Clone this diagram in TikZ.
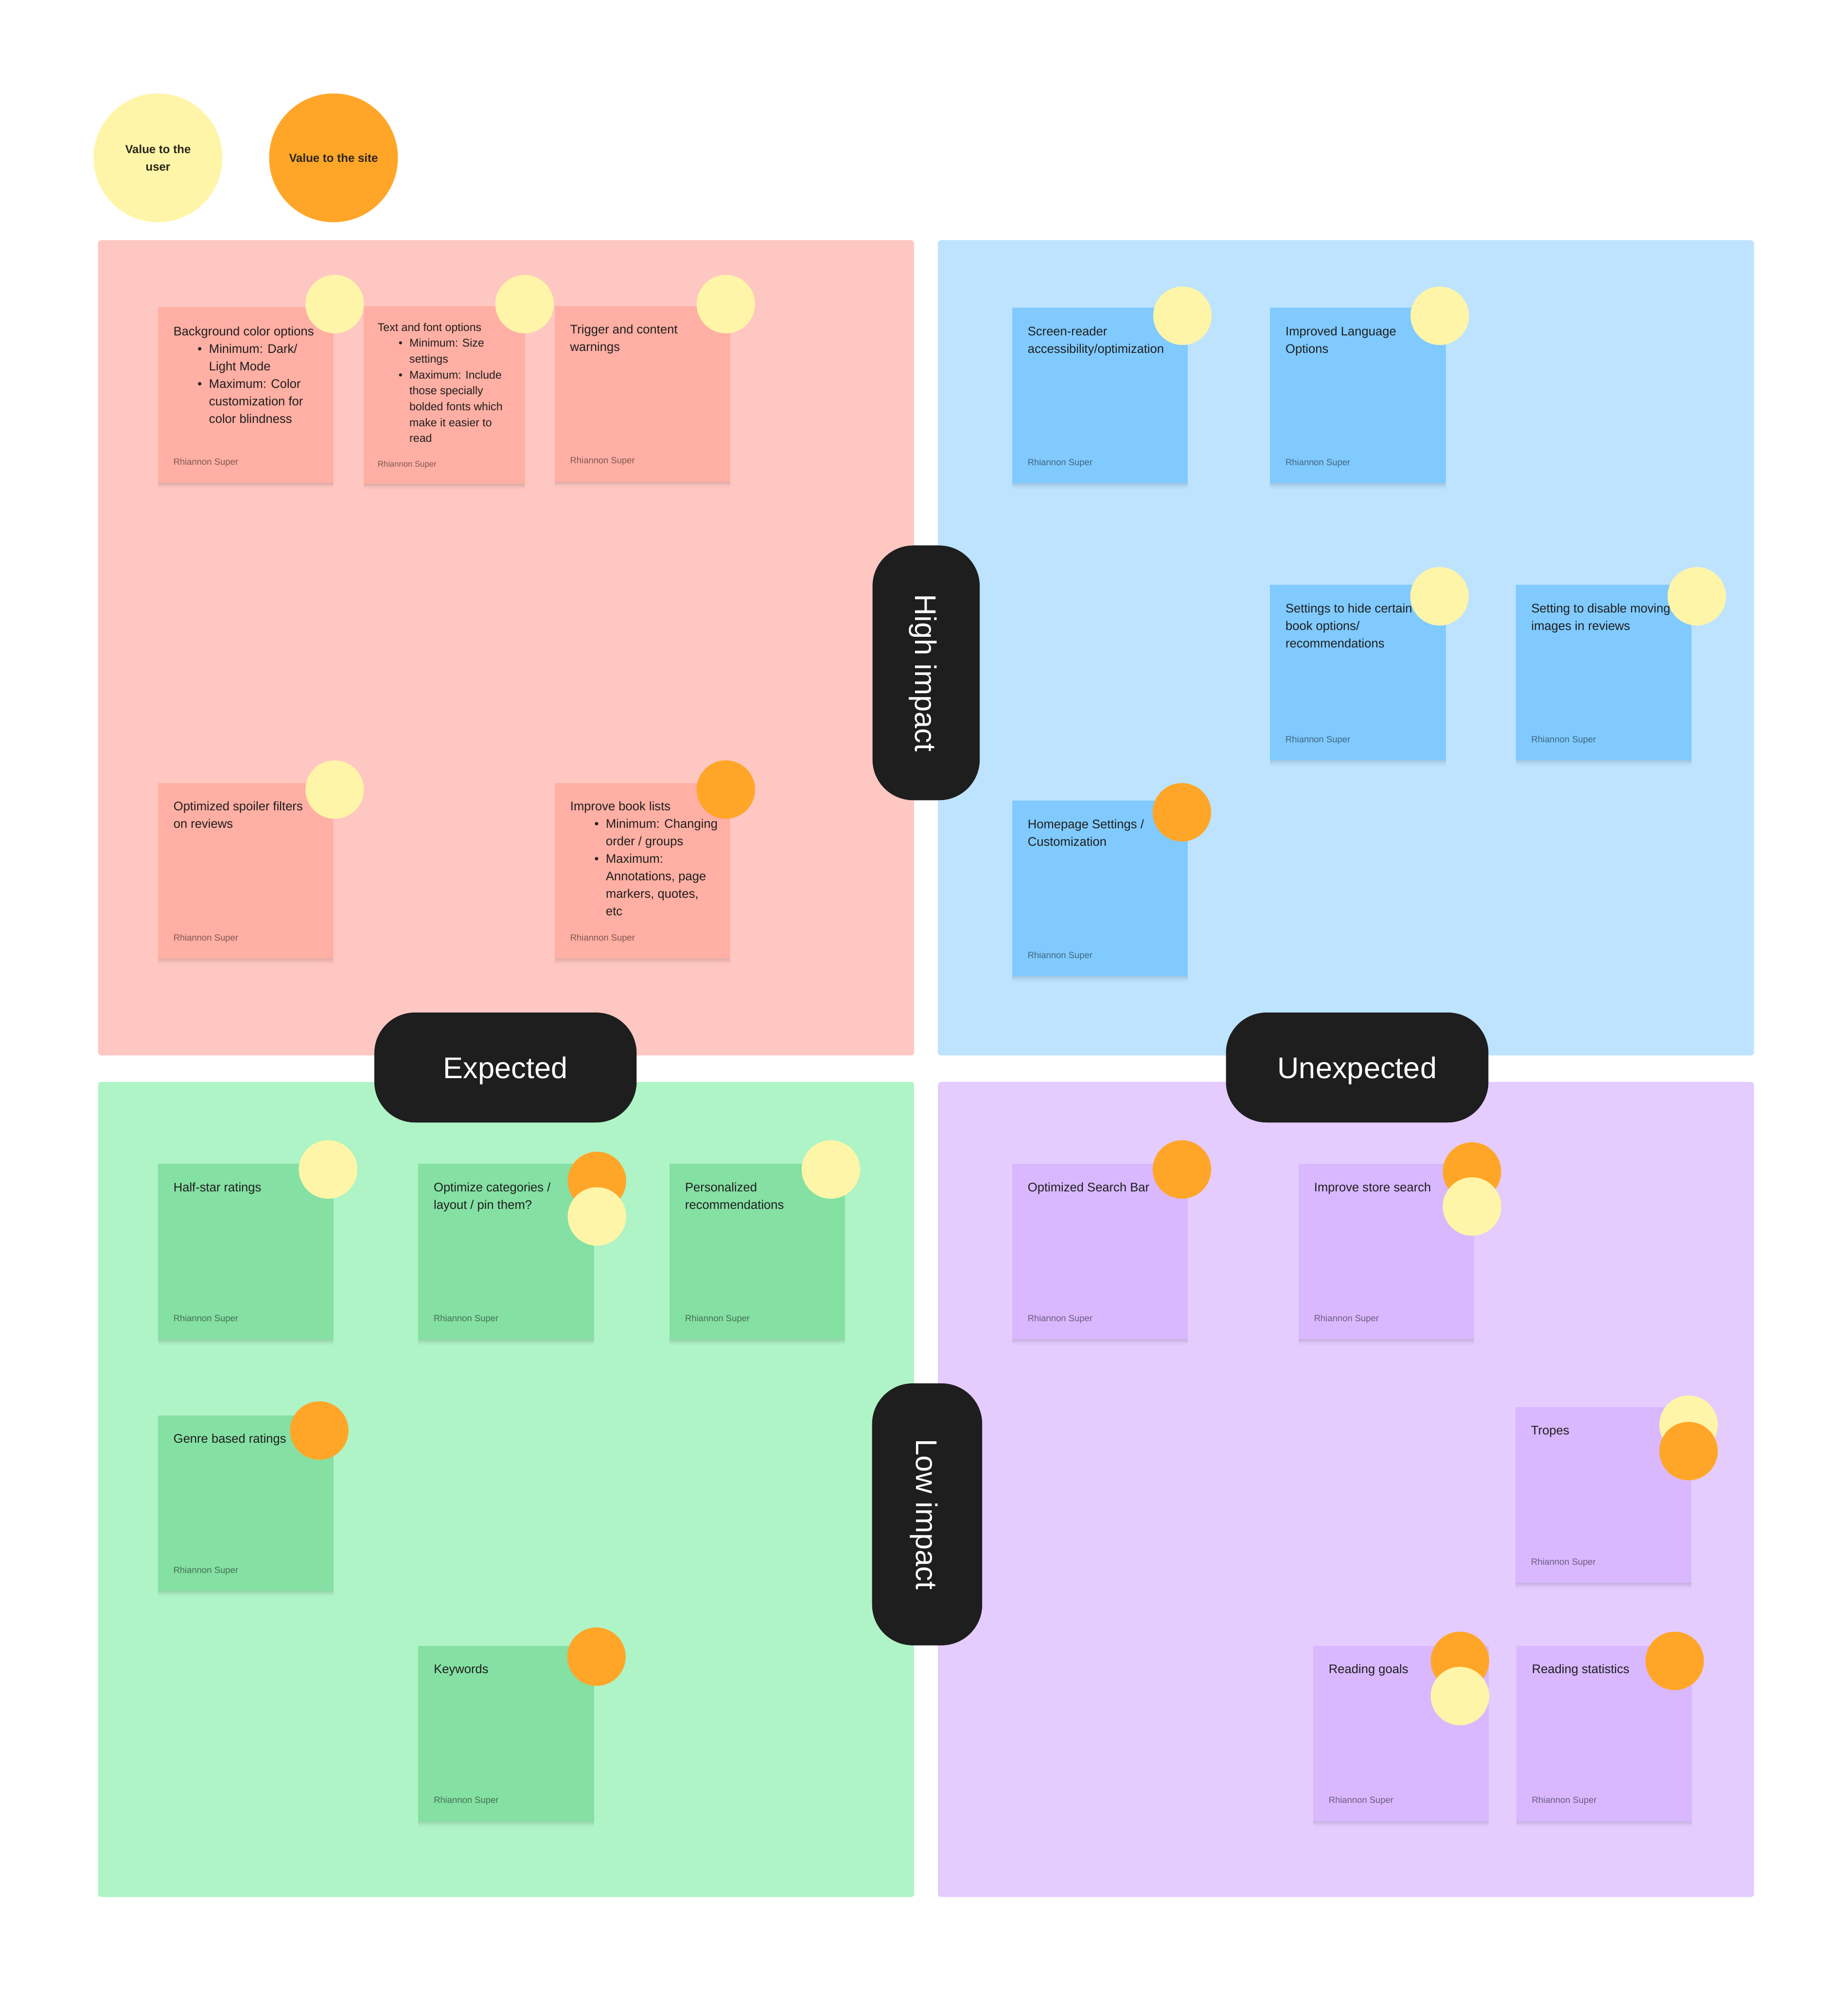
\documentclass[tikz,border=0pt]{standalone}
\usepackage{fontspec}
\setmainfont{Liberation Sans}
\usetikzlibrary{calc}
\definecolor{pinkbg}{HTML}{FFC7C2}
\definecolor{pinknote}{HTML}{FFAFA3}
\definecolor{bluebg}{HTML}{BDE3FF}
\definecolor{bluenote}{HTML}{80CAFF}
\definecolor{greenbg}{HTML}{AFF4C6}
\definecolor{greennote}{HTML}{85E0A3}
\definecolor{purplebg}{HTML}{E4CCFF}
\definecolor{purplenote}{HTML}{D9B8FF}
\definecolor{dotyellow}{HTML}{FFF5A8}
\definecolor{dotorange}{HTML}{FFA629}
\definecolor{pillc}{HTML}{1E1E1E}
\definecolor{txt}{HTML}{1E1E1E}
\definecolor{legtxt}{HTML}{2B2619}
\newcommand\nbul[1]{\hspace*{19pt}\makebox[9pt][l]{•}#1}
\newcommand\ncont[1]{\hspace*{28pt}#1}
\newcommand\nbulS[1]{\hspace*{16.5pt}\makebox[8.5pt][l]{•}#1}
\newcommand\ncontS[1]{\hspace*{25pt}#1}
\newcommand\ntext[1]{\parbox[t]{220pt}{\raggedright #1}}
\begin{document}
\begin{tikzpicture}[x=1pt,y=-1pt,
  quad/.style={rectangle, rounded corners=2.5pt, inner sep=0, anchor=north west, minimum width=642.5pt, minimum height=642pt},
  note/.style={rectangle, inner sep=0, outer sep=0, anchor=north west, minimum width=138.3pt, minimum height=138.2pt,
    preaction={fill=black, fill opacity=0.03, transform canvas={yshift=-1pt}},
    preaction={fill=black, fill opacity=0.03, transform canvas={yshift=-2pt}},
    preaction={fill=black, fill opacity=0.03, transform canvas={yshift=-3pt}},
    preaction={fill=black, fill opacity=0.025, transform canvas={yshift=-4.5pt}}},
  notetext/.style={inner sep=0, anchor=base west, text=txt, font=\fontsize{9.8}{13.8}\selectfont},
  notetextS/.style={inner sep=0, anchor=base west, text=txt, font=\fontsize{8.85}{12.5}\selectfont},
  author/.style={inner sep=0, anchor=base west, text=black, text opacity=0.5, font=\fontsize{7.05}{8}\selectfont},
  authorS/.style={inner sep=0, anchor=base west, text=black, text opacity=0.5, font=\fontsize{6.4}{8}\selectfont},
  dotY/.style={circle, fill=dotyellow, minimum size=46pt, inner sep=0},
  dotO/.style={circle, fill=dotorange, minimum size=46pt, inner sep=0},
  legend/.style={circle, minimum size=101.4pt, inner sep=0},
  legtext/.style={inner sep=0, align=center, text=legtxt, font=\bfseries\fontsize{9.2}{14}\selectfont},
  pill/.style={rectangle, fill=pillc, rounded corners=32pt, inner sep=0},
  pilltext/.style={inner sep=0, anchor=base, text=white, font=\fontsize{23.5}{28}\selectfont}
]
\useasboundingbox[fill=white] (0,0) rectangle (1455,1568);

% legend
\node (legU) [legend, fill=dotyellow] at (124.4,124.3) {};
\node (legUt) [legtext] at (legU.center) {Value to the\\user};
\node (legS) [legend, fill=dotorange] at (262.6,124.3) {};
\node (legSt) [legtext] at (legS.center) {Value to the site};

% quadrants
\node (qPink) [quad, fill=pinkbg] at (77,189) {};
\node (qBlue) [quad, fill=bluebg] at (738.3,189) {};
\node (qGreen) [quad, fill=greenbg] at (77,851.8) {};
\node (qPurple) [quad, fill=purplebg] at (738.3,851.8) {};

% ---------- pink notes ----------
\node (p1) [note, fill=pinknote] at (124.4,242) {};
\node (p1t) [notetext] at ($(p1.north west)+(12,22.3)$) {\ntext{Background color options\\
\nbul{Minimum: Dark/}\\
\ncont{Light Mode}\\
\nbul{Maximum: Color}\\
\ncont{customization for}\\
\ncont{color blindness}}};
\node (p1a) [author] at ($(p1.south west)+(12,-14)$) {Rhiannon Super};

\node (p2) [note, fill=pinknote, minimum width=127pt, minimum height=140pt] at (286.5,241) {};
\node (p2t) [notetextS] at ($(p2.north west)+(10.7,19.8)$) {\ntext{Text and font options\\
\nbulS{Minimum: Size}\\
\ncontS{settings}\\
\nbulS{Maximum: Include}\\
\ncontS{those specially}\\
\ncontS{bolded fonts which}\\
\ncontS{make it easier to}\\
\ncontS{read}}};
\node (p2a) [authorS] at ($(p2.south west)+(10.7,-13.2)$) {Rhiannon Super};

\node (p3) [note, fill=pinknote] at (436.7,241) {};
\node (p3t) [notetext] at ($(p3.north west)+(12,21.8)$) {\ntext{Trigger and content\\warnings}};
\node (p3a) [author] at ($(p3.south west)+(12,-14)$) {Rhiannon Super};

\node (p4) [note, fill=pinknote] at (124.4,616.6) {};
\node (p4t) [notetext] at ($(p4.north west)+(12,21.8)$) {\ntext{Optimized spoiler filters\\on reviews}};
\node (p4a) [author] at ($(p4.south west)+(12,-14)$) {Rhiannon Super};

\node (p5) [note, fill=pinknote] at (436.8,616.6) {};
\node (p5t) [notetext] at ($(p5.north west)+(12,21.8)$) {\ntext{Improve book lists\\
\nbul{Minimum: Changing}\\
\ncont{order / groups}\\
\nbul{Maximum:}\\
\ncont{Annotations, page}\\
\ncont{markers, quotes,}\\
\ncont{etc}}};
\node (p5a) [author] at ($(p5.south west)+(12,-14)$) {Rhiannon Super};

% ---------- blue notes ----------
\node (b1) [note, fill=bluenote] at (797,242.4) {};
\node (b1t) [notetext] at ($(b1.north west)+(12,22)$) {\ntext{Screen-reader\\accessibility/optimization}};
\node (b1a) [author] at ($(b1.south west)+(12,-14)$) {Rhiannon Super};

\node (b2) [note, fill=bluenote] at (1000,242.4) {};
\node (b2t) [notetext] at ($(b2.north west)+(12,22)$) {\ntext{Improved Language\\Options}};
\node (b2a) [author] at ($(b2.south west)+(12,-14)$) {Rhiannon Super};

\node (b3) [note, fill=bluenote] at (1000,460.6) {};
\node (b3t) [notetext] at ($(b3.north west)+(12,22)$) {\ntext{Settings to hide certain\\book options/\\recommendations}};
\node (b3a) [author] at ($(b3.south west)+(12,-14)$) {Rhiannon Super};

\node (b4) [note, fill=bluenote] at (1193.5,460.6) {};
\node (b4t) [notetext] at ($(b4.north west)+(12,22)$) {\ntext{Setting to disable moving\\images in reviews}};
\node (b4a) [author] at ($(b4.south west)+(12,-14)$) {Rhiannon Super};

\node (b5) [note, fill=bluenote] at (797,630.5) {};
\node (b5t) [notetext] at ($(b5.north west)+(12,22)$) {\ntext{Homepage Settings /\\Customization}};
\node (b5a) [author] at ($(b5.south west)+(12,-14)$) {Rhiannon Super};

% ---------- green notes ----------
\node (g1) [note, fill=greennote] at (124.4,916.6) {};
\node (g1t) [notetext] at ($(g1.north west)+(12,21.8)$) {\ntext{Half-star ratings}};
\node (g1a) [author] at ($(g1.south west)+(12,-14)$) {Rhiannon Super};

\node (g2) [note, fill=greennote] at (329.3,916.6) {};
\node (g2t) [notetext] at ($(g2.north west)+(12,21.8)$) {\ntext{Optimize categories /\\layout / pin them?}};
\node (g2a) [author] at ($(g2.south west)+(12,-14)$) {Rhiannon Super};

\node (g3) [note, fill=greennote] at (527.2,916.6) {};
\node (g3t) [notetext] at ($(g3.north west)+(12,21.8)$) {\ntext{Personalized\\recommendations}};
\node (g3a) [author] at ($(g3.south west)+(12,-14)$) {Rhiannon Super};

\node (g4) [note, fill=greennote] at (124.4,1114.6) {};
\node (g4t) [notetext] at ($(g4.north west)+(12,21.8)$) {\ntext{Genre based ratings}};
\node (g4a) [author] at ($(g4.south west)+(12,-14)$) {Rhiannon Super};

\node (g5) [note, fill=greennote] at (329.4,1296) {};
\node (g5t) [notetext] at ($(g5.north west)+(12,21.8)$) {\ntext{Keywords}};
\node (g5a) [author] at ($(g5.south west)+(12,-14)$) {Rhiannon Super};

% ---------- purple notes ----------
\node (v1) [note, fill=purplenote] at (797,916.5) {};
\node (v1t) [notetext] at ($(v1.north west)+(12,21.8)$) {\ntext{Optimized Search Bar}};
\node (v1a) [author] at ($(v1.south west)+(12,-14)$) {Rhiannon Super};

\node (v2) [note, fill=purplenote] at (1022.5,916.5) {};
\node (v2t) [notetext] at ($(v2.north west)+(12,21.8)$) {\ntext{Improve store search}};
\node (v2a) [author] at ($(v2.south west)+(12,-14)$) {Rhiannon Super};

\node (v3) [note, fill=purplenote] at (1193.3,1108.2) {};
\node (v3t) [notetext] at ($(v3.north west)+(12,21.8)$) {\ntext{Tropes}};
\node (v3a) [author] at ($(v3.south west)+(12,-14)$) {Rhiannon Super};

\node (v4) [note, fill=purplenote] at (1034,1296) {};
\node (v4t) [notetext] at ($(v4.north west)+(12,21.8)$) {\ntext{Reading goals}};
\node (v4a) [author] at ($(v4.south west)+(12,-14)$) {Rhiannon Super};

\node (v5) [note, fill=purplenote] at (1194,1296) {};
\node (v5t) [notetext] at ($(v5.north west)+(12,21.8)$) {\ntext{Reading statistics}};
\node (v5a) [author] at ($(v5.south west)+(12,-14)$) {Rhiannon Super};

% ---------- dots ----------
\node (dp1) [dotY] at (263.5,239.5) {};
\node (dp2) [dotY] at (413,239.5) {};
\node (dp3) [dotY] at (571.5,239.5) {};
\node (dp4) [dotY] at (263.5,621.8) {};
\node (dp5) [dotO] at (571.5,621.8) {};

\node (db1) [dotY] at (931,248.7) {};
\node (db2) [dotY] at (1133.6,248.7) {};
\node (db3) [dotY] at (1133.4,469.6) {};
\node (db4) [dotY] at (1336,469.6) {};
\node (db5) [dotO] at (930.6,639.7) {};

\node (dg1) [dotY] at (258.3,921) {};
\node (dg2o) [dotO] at (470,930) {};
\node (dg2y) [dotY] at (470,958) {};
\node (dg3) [dotY] at (654.2,921) {};
\node (dg4) [dotO] at (251.4,1126.6) {};
\node (dg5) [dotO] at (469.6,1304.7) {};

\node (dv1) [dotO] at (930.6,921) {};
\node (dv2o) [dotO] at (1159,922.6) {};
\node (dv2y) [dotY] at (1159,950.2) {};
\node (dv3y) [dotY] at (1329.5,1122) {};
\node (dv3o) [dotO] at (1329.5,1142.8) {};
\node (dv4o) [dotO] at (1149.5,1308) {};
\node (dv4y) [dotY] at (1149.5,1335.7) {};
\node (dv5) [dotO] at (1318.6,1308) {};

% ---------- pills ----------
\node (pHigh) [pill, minimum width=84.4pt, minimum height=200.6pt] at (729.2,529.9) {};
\node (pHighT) [pilltext, rotate=-90] at ($(pHigh.center)+(-8.5,0)$) {High impact};
\node (pLow) [pill, minimum width=86.7pt, minimum height=206.3pt] at (730,1192.6) {};
\node (pLowT) [pilltext, rotate=-90] at ($(pLow.center)+(-8.7,0)$) {Low impact};
\node (pExp) [pill, minimum width=206.5pt, minimum height=86.6pt] at (398,840.7) {};
\node (pExpT) [pilltext] at ($(pExp.center)+(0,8.7)$) {Expected};
\node (pUnx) [pill, minimum width=206.7pt, minimum height=86.6pt] at (1068.6,840.7) {};
\node (pUnxT) [pilltext] at ($(pUnx.center)+(0,8.7)$) {Unexpected};
\end{tikzpicture}
\end{document}
